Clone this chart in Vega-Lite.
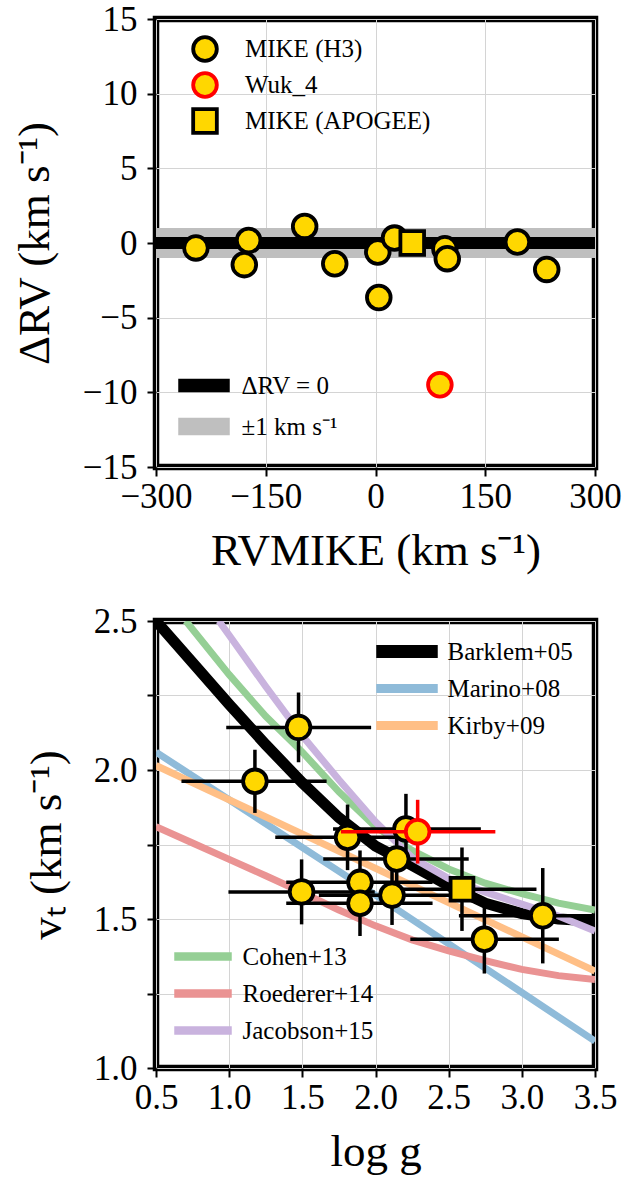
{
  "$schema": "https://vega.github.io/schema/vega-lite/v6.json",
  "background": "white",
  "padding": {"left": 9, "top": -2, "right": 0, "bottom": 0},
  "bounds": "flush",
  "spacing": 154,
  "datasets": {
    "top": [
      {"rv": -245.4, "drv": -0.33, "group": "MIKE (H3)"},
      {"rv": -173.4, "drv": 0.17, "group": "MIKE (H3)"},
      {"rv": -179.3, "drv": -1.45, "group": "MIKE (H3)"},
      {"rv": -96.8, "drv": 1.11, "group": "MIKE (H3)"},
      {"rv": -55.7, "drv": -1.39, "group": "MIKE (H3)"},
      {"rv": 3.1, "drv": -0.6, "group": "MIKE (H3)"},
      {"rv": 26.0, "drv": 0.33, "group": "MIKE (H3)"},
      {"rv": 94.8, "drv": -0.38, "group": "MIKE (H3)"},
      {"rv": 98.1, "drv": -1.05, "group": "MIKE (H3)"},
      {"rv": 193.9, "drv": 0.07, "group": "MIKE (H3)"},
      {"rv": 234.0, "drv": -1.77, "group": "MIKE (H3)"},
      {"rv": 4.5, "drv": -3.65, "group": "MIKE (H3)"},
      {"rv": 50.2, "drv": 0.0, "group": "MIKE (APOGEE)"},
      {"rv": 88.0, "drv": -9.49, "group": "Wuk_4"}
    ],
    "bottom": [
      {"logg": 1.474, "vt": 2.143, "xlo": 0.98, "xhi": 1.97, "ylo": 2.026, "yhi": 2.26, "kind": "H3"},
      {"logg": 1.176, "vt": 1.962, "xlo": 0.674, "xhi": 1.666, "ylo": 1.856, "yhi": 2.068, "kind": "H3"},
      {"logg": 2.208, "vt": 1.802, "xlo": 1.71, "xhi": 2.72, "ylo": 1.69, "yhi": 1.92, "kind": "H3"},
      {"logg": 1.809, "vt": 1.774, "xlo": 1.315, "xhi": 2.3, "ylo": 1.664, "yhi": 1.884, "kind": "H3"},
      {"logg": 2.145, "vt": 1.701, "xlo": 1.643, "xhi": 2.637, "ylo": 1.6, "yhi": 1.8, "kind": "H3"},
      {"logg": 1.894, "vt": 1.623, "xlo": 1.39, "xhi": 2.39, "ylo": 1.52, "yhi": 1.73, "kind": "H3"},
      {"logg": 1.894, "vt": 1.553, "xlo": 1.39, "xhi": 2.39, "ylo": 1.443, "yhi": 1.663, "kind": "H3"},
      {"logg": 1.495, "vt": 1.591, "xlo": 0.995, "xhi": 1.995, "ylo": 1.482, "yhi": 1.7, "kind": "H3"},
      {"logg": 2.113, "vt": 1.58, "xlo": 1.613, "xhi": 2.613, "ylo": 1.48, "yhi": 1.68, "kind": "H3"},
      {"logg": 3.143, "vt": 1.511, "xlo": 2.57, "xhi": 3.71, "ylo": 1.351, "yhi": 1.671, "kind": "H3"},
      {"logg": 2.744, "vt": 1.432, "xlo": 2.238, "xhi": 3.253, "ylo": 1.317, "yhi": 1.547, "kind": "H3"},
      {"logg": 2.591, "vt": 1.6, "xlo": 2.08, "xhi": 3.1, "ylo": 1.46, "yhi": 1.74, "kind": "APOGEE"},
      {"logg": 2.288, "vt": 1.793, "xlo": 1.764, "xhi": 2.819, "ylo": 1.686, "yhi": 1.9, "kind": "Wuk_4"}
    ],
    "curves": [
      {"logg": 0.5, "vt": 2.5, "paper": "Barklem+05"},
      {"logg": 0.75, "vt": 2.36, "paper": "Barklem+05"},
      {"logg": 1.0, "vt": 2.22, "paper": "Barklem+05"},
      {"logg": 1.25, "vt": 2.085, "paper": "Barklem+05"},
      {"logg": 1.5, "vt": 1.957, "paper": "Barklem+05"},
      {"logg": 1.75, "vt": 1.84, "paper": "Barklem+05"},
      {"logg": 2.0, "vt": 1.745, "paper": "Barklem+05"},
      {"logg": 2.25, "vt": 1.68, "paper": "Barklem+05"},
      {"logg": 2.5, "vt": 1.612, "paper": "Barklem+05"},
      {"logg": 2.75, "vt": 1.553, "paper": "Barklem+05"},
      {"logg": 3.0, "vt": 1.518, "paper": "Barklem+05"},
      {"logg": 3.25, "vt": 1.5, "paper": "Barklem+05"},
      {"logg": 3.5, "vt": 1.493, "paper": "Barklem+05"},
      {"logg": 0.5, "vt": 2.06, "paper": "Marino+08"},
      {"logg": 2.0, "vt": 1.58, "paper": "Marino+08"},
      {"logg": 3.5, "vt": 1.09, "paper": "Marino+08"},
      {"logg": 0.5, "vt": 2.015, "paper": "Kirby+09"},
      {"logg": 3.5, "vt": 1.325, "paper": "Kirby+09"},
      {"logg": 0.704, "vt": 2.5, "paper2": "Cohen+13"},
      {"logg": 1.0, "vt": 2.32, "paper2": "Cohen+13"},
      {"logg": 1.25, "vt": 2.18, "paper2": "Cohen+13"},
      {"logg": 1.5, "vt": 2.06, "paper2": "Cohen+13"},
      {"logg": 1.75, "vt": 1.927, "paper2": "Cohen+13"},
      {"logg": 2.0, "vt": 1.81, "paper2": "Cohen+13"},
      {"logg": 2.25, "vt": 1.73, "paper2": "Cohen+13"},
      {"logg": 2.5, "vt": 1.668, "paper2": "Cohen+13"},
      {"logg": 2.75, "vt": 1.62, "paper2": "Cohen+13"},
      {"logg": 3.0, "vt": 1.585, "paper2": "Cohen+13"},
      {"logg": 3.25, "vt": 1.553, "paper2": "Cohen+13"},
      {"logg": 3.5, "vt": 1.53, "paper2": "Cohen+13"},
      {"logg": 0.5, "vt": 1.81, "paper2": "Roederer+14"},
      {"logg": 0.75, "vt": 1.755, "paper2": "Roederer+14"},
      {"logg": 1.0, "vt": 1.7, "paper2": "Roederer+14"},
      {"logg": 1.25, "vt": 1.645, "paper2": "Roederer+14"},
      {"logg": 1.5, "vt": 1.589, "paper2": "Roederer+14"},
      {"logg": 1.75, "vt": 1.53, "paper2": "Roederer+14"},
      {"logg": 2.0, "vt": 1.477, "paper2": "Roederer+14"},
      {"logg": 2.25, "vt": 1.43, "paper2": "Roederer+14"},
      {"logg": 2.5, "vt": 1.393, "paper2": "Roederer+14"},
      {"logg": 2.75, "vt": 1.36, "paper2": "Roederer+14"},
      {"logg": 3.0, "vt": 1.331, "paper2": "Roederer+14"},
      {"logg": 3.25, "vt": 1.31, "paper2": "Roederer+14"},
      {"logg": 3.5, "vt": 1.297, "paper2": "Roederer+14"},
      {"logg": 0.93, "vt": 2.5, "paper2": "Jacobson+15"},
      {"logg": 1.0, "vt": 2.452, "paper2": "Jacobson+15"},
      {"logg": 1.25, "vt": 2.28, "paper2": "Jacobson+15"},
      {"logg": 1.5, "vt": 2.115, "paper2": "Jacobson+15"},
      {"logg": 1.75, "vt": 1.967, "paper2": "Jacobson+15"},
      {"logg": 2.0, "vt": 1.826, "paper2": "Jacobson+15"},
      {"logg": 2.25, "vt": 1.706, "paper2": "Jacobson+15"},
      {"logg": 2.5, "vt": 1.636, "paper2": "Jacobson+15"},
      {"logg": 2.75, "vt": 1.59, "paper2": "Jacobson+15"},
      {"logg": 3.0, "vt": 1.55, "paper2": "Jacobson+15"},
      {"logg": 3.25, "vt": 1.51, "paper2": "Jacobson+15"},
      {"logg": 3.5, "vt": 1.46, "paper2": "Jacobson+15"}
    ]
  },
  "vconcat": [
    {
      "width": 439,
      "height": 448,
      "encoding": {
        "y": {"field": "drv", "type": "quantitative", "scale": {"domain": [-15, 15], "nice": false, "zero": false},
          "axis": {"values": [-15, -10, -5, 0, 5, 10, 15], "title": "ΔRV (km s⁻¹)", "titlePadding": 25}}
      },
      "layer": [
        {
          "data": {"values": [{"drv": -1, "hi": 1, "ref": "±1 km s⁻¹"}]},
          "mark": {"type": "rect"},
          "encoding": {
            "y2": {"field": "hi"},
            "color": {"field": "ref", "type": "nominal",
              "scale": {"domain": ["ΔRV = 0", "±1 km s⁻¹"], "range": ["black", "#bfbfbf"]},
              "legend": {"title": null, "orient": "none", "legendX": 22, "legendY": 353,
                "symbolType": "M-2,-0.5H2V0.5H-2Z", "symbolSize": 625, "symbolOffset": 12.5,
                "labelOffset": 24, "rowPadding": 14, "labelFontSize": 25,
                "encode": {"symbols": {"update": {
                  "fill": {"signal": "datum.value === 'ΔRV = 0' ? 'black' : '#bfbfbf'"},
                  "shape": {"signal": "datum.value === 'ΔRV = 0' ? 'M-2,-0.48H2V0.48H-2Z' : 'M-2,-0.64H2V0.64H-2Z'"},
                  "stroke": {"value": "transparent"},
                  "opacity": {"value": 1}}}}}}
          }
        },
        {
          "data": {"values": [{"drv": 0, "ref": "ΔRV = 0"}]},
          "mark": {"type": "rule", "strokeWidth": 12},
          "encoding": {
            "color": {"field": "ref", "type": "nominal"}
          }
        },
        {
          "data": {"name": "top"},
          "mark": {"type": "point", "filled": true, "fill": "#FFD700", "size": 560, "strokeWidth": 3.8, "opacity": 1},
          "encoding": {
            "x": {"field": "rv", "type": "quantitative", "scale": {"domain": [-300, 300], "nice": false, "zero": false},
              "axis": {"values": [-300, -150, 0, 150, 300], "title": "RVMIKE (km s⁻¹)", "titlePadding": 14}},
            "shape": {"field": "group", "type": "nominal",
              "scale": {"domain": ["MIKE (H3)", "Wuk_4", "MIKE (APOGEE)"], "range": ["circle", "circle", "square"]},
              "legend": {"title": null, "orient": "none", "legendX": 35, "legendY": 16,
                "symbolSize": 560, "symbolStrokeWidth": 3.8, "labelOffset": 26, "rowPadding": -4, "labelFontSize": 25,
                "encode": {"symbols": {"update": {
                  "fill": {"value": "#FFD700"},
                  "stroke": {"signal": "datum.value === 'Wuk_4' ? 'red' : 'black'"},
                  "opacity": {"value": 1}}}}}},
            "stroke": {"field": "group", "type": "nominal",
              "scale": {"domain": ["MIKE (H3)", "Wuk_4", "MIKE (APOGEE)"], "range": ["black", "red", "black"]},
              "legend": null}
          }
        }
      ]
    },
    {
      "width": 439,
      "height": 447,
      "encoding": {
        "x": {"field": "logg", "type": "quantitative", "scale": {"domain": [0.5, 3.5], "nice": false, "zero": false},
          "axis": {"values": [0.5, 1.0, 1.5, 2.0, 2.5, 3.0, 3.5], "format": ".1f", "title": "log g", "titlePadding": 14}},
        "y": {"field": "vt", "type": "quantitative", "scale": {"domain": [1.0, 2.5], "nice": false, "zero": false},
          "axis": {"values": [1.0, 1.25, 1.5, 1.75, 2.0, 2.25, 2.5], "labelExpr": "datum.value % 0.5 === 0 ? format(datum.value, '.1f') : ''", "title": "vₜ (km s⁻¹)", "titlePadding": 24}}
      },
      "layer": [
        {
          "data": {"name": "curves"},
          "transform": [{"filter": "datum.paper === 'Marino+08' || datum.paper === 'Kirby+09'"}],
          "mark": {"type": "line", "strokeWidth": 7, "clip": true},
          "encoding": {
            "color": {"field": "paper", "type": "nominal",
              "scale": {"domain": ["Barklem+05", "Marino+08", "Kirby+09"], "range": ["black", "#8fbbd9", "#ffbf86"]},
              "legend": {"title": null, "orient": "none", "legendX": 220, "legendY": 17,
                "symbolType": "M-2.4,-0.3H2.4V0.3H-2.4Z", "symbolSize": 625, "symbolOffset": 17.5,
                "labelOffset": 27, "rowPadding": 10, "labelFontSize": 25,
                "encode": {"symbols": {"update": {
                  "shape": {"signal": "datum.value === 'Barklem+05' ? 'M-2.4,-0.46H2.4V0.46H-2.4Z' : 'M-2.4,-0.3H2.4V0.3H-2.4Z'"},
                  "fill": {"signal": "datum.value === 'Barklem+05' ? 'black' : (datum.value === 'Marino+08' ? '#8fbbd9' : '#ffbf86')"},
                  "stroke": {"value": "transparent"},
                  "opacity": {"value": 1}}}}}}
          }
        },
        {
          "data": {"name": "curves"},
          "transform": [{"filter": "datum.paper === 'Barklem+05'"}],
          "mark": {"type": "line", "strokeWidth": 11, "clip": true},
          "encoding": {
            "color": {"field": "paper", "type": "nominal"}
          }
        },
        {
          "data": {"name": "curves"},
          "transform": [{"filter": "isValid(datum.paper2)"}],
          "mark": {"type": "line", "strokeWidth": 7, "clip": true},
          "encoding": {
            "stroke": {"field": "paper2", "type": "nominal",
              "scale": {"domain": ["Cohen+13", "Roederer+14", "Jacobson+15"], "range": ["#95cf95", "#ea9393", "#c9b3de"]},
              "legend": {"title": null, "orient": "none", "legendX": 18, "legendY": 322,
                "symbolType": "M-2.24,-0.28H2.24V0.28H-2.24Z", "symbolSize": 625, "symbolOffset": 15.5,
                "labelOffset": 26, "rowPadding": 10, "labelFontSize": 25,
                "encode": {"symbols": {"update": {
                  "shape": {"value": "M-2.24,-0.28H2.24V0.28H-2.24Z"},
                  "fill": {"signal": "datum.value === 'Cohen+13' ? '#95cf95' : (datum.value === 'Roederer+14' ? '#ea9393' : '#c9b3de')"},
                  "stroke": {"value": "transparent"},
                  "opacity": {"value": 1}}}}}}
          }
        },
        {
          "data": {"name": "bottom"},
          "transform": [{"filter": "datum.kind !== 'Wuk_4'"}],
          "mark": {"type": "rule", "color": "black", "strokeWidth": 3.5, "clip": true},
          "encoding": {
            "x": {"field": "xlo", "type": "quantitative",
              "axis": {"values": [0.5, 1.0, 1.5, 2.0, 2.5, 3.0, 3.5], "format": ".1f", "title": "log g", "titlePadding": 14}},
            "x2": {"field": "xhi"}
          }
        },
        {
          "data": {"name": "bottom"},
          "transform": [{"filter": "datum.kind !== 'Wuk_4'"}],
          "mark": {"type": "rule", "color": "black", "strokeWidth": 3.5, "clip": true},
          "encoding": {
            "y": {"field": "ylo", "type": "quantitative",
              "axis": {"values": [1.0, 1.25, 1.5, 1.75, 2.0, 2.25, 2.5], "labelExpr": "datum.value % 0.5 === 0 ? format(datum.value, '.1f') : ''", "title": "vₜ (km s⁻¹)", "titlePadding": 24}},
            "y2": {"field": "yhi"}
          }
        },
        {
          "data": {"name": "bottom"},
          "transform": [{"filter": "datum.kind === 'H3'"}],
          "mark": {"type": "point", "shape": "circle", "filled": true, "fill": "#FFD700", "stroke": "black", "strokeWidth": 3.8, "size": 560, "opacity": 1}
        },
        {
          "data": {"name": "bottom"},
          "transform": [{"filter": "datum.kind === 'APOGEE'"}],
          "mark": {"type": "point", "shape": "square", "filled": true, "fill": "#FFD700", "stroke": "black", "strokeWidth": 3.8, "size": 520, "opacity": 1}
        },
        {
          "data": {"name": "bottom"},
          "transform": [{"filter": "datum.kind === 'Wuk_4'"}],
          "mark": {"type": "rule", "color": "red", "strokeWidth": 3.5, "clip": true},
          "encoding": {
            "x": {"field": "xlo", "type": "quantitative",
              "axis": {"values": [0.5, 1.0, 1.5, 2.0, 2.5, 3.0, 3.5], "format": ".1f", "title": "log g", "titlePadding": 14}},
            "x2": {"field": "xhi"}
          }
        },
        {
          "data": {"name": "bottom"},
          "transform": [{"filter": "datum.kind === 'Wuk_4'"}],
          "mark": {"type": "rule", "color": "red", "strokeWidth": 3.5, "clip": true},
          "encoding": {
            "y": {"field": "ylo", "type": "quantitative",
              "axis": {"values": [1.0, 1.25, 1.5, 1.75, 2.0, 2.25, 2.5], "labelExpr": "datum.value % 0.5 === 0 ? format(datum.value, '.1f') : ''", "title": "vₜ (km s⁻¹)", "titlePadding": 24}},
            "y2": {"field": "yhi"}
          }
        },
        {
          "data": {"name": "bottom"},
          "transform": [{"filter": "datum.kind === 'Wuk_4'"}],
          "mark": {"type": "point", "shape": "circle", "filled": true, "fill": "#FFD700", "stroke": "red", "strokeWidth": 3.8, "size": 560, "opacity": 1}
        }
      ]
    }
  ],
  "resolve": {
    "scale": {"x": "independent", "y": "independent", "color": "independent", "stroke": "independent", "shape": "independent"},
    "legend": {"color": "independent", "stroke": "independent", "shape": "independent"}
  },
  "config": {
    "font": "Liberation Serif",
    "view": {"stroke": "black", "strokeWidth": 6.5},
    "axis": {
      "domain": false, "grid": true, "gridColor": "#d4d4d4", "gridWidth": 1,
      "ticks": true, "tickColor": "black", "tickWidth": 2, "tickSize": 9,
      "labelFont": "Liberation Serif", "labelFontSize": 35, "labelColor": "black", "labelPadding": 10,
      "labelFlush": false, "labelOverlap": false,
      "titleFont": "Liberation Serif", "titleFontSize": 45, "titleFontWeight": "normal", "titleColor": "black"
    },
    "axisX": {"labelPadding": 3},
    "axisY": {"labelPadding": 10},
    "legend": {"labelFont": "Liberation Serif", "labelColor": "black", "padding": 0, "labelLimit": 400}
  }
}
